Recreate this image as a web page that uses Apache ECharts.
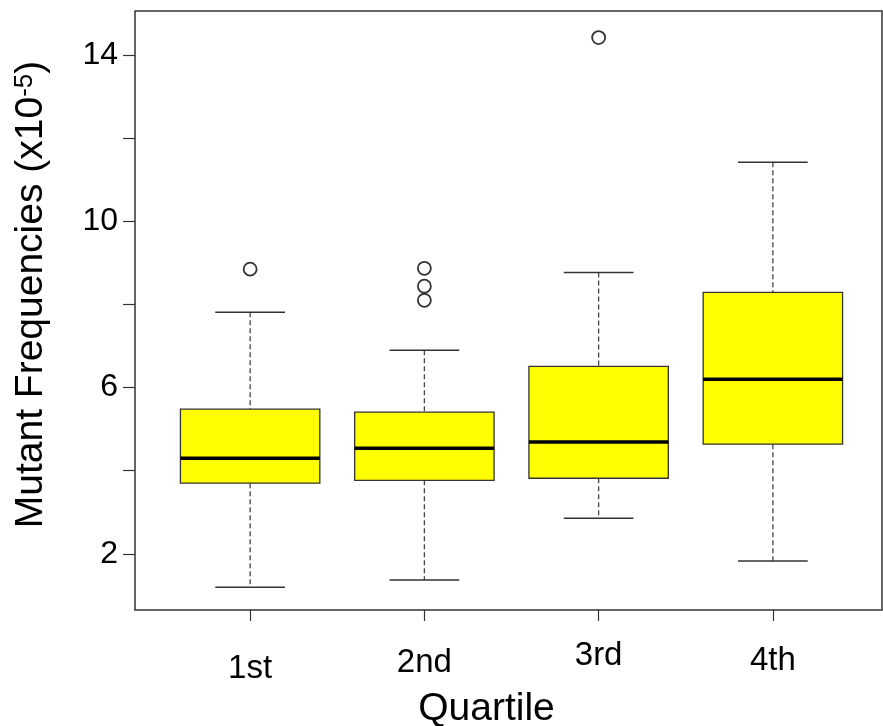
<!DOCTYPE html>
<html>
<head>
<meta charset="utf-8">
<script src="https://cdn.jsdelivr.net/npm/echarts@6/dist/echarts.min.js"></script>
<style>html,body{margin:0;padding:0;background:#fff;}#c{width:883px;height:726px;}</style>
</head>
<body>
<div id="c"></div>
<script>
const categories = ['1st', '2nd', '3rd', '4th'];
const lowerWhisker = [1.20, 1.37, 2.86, 1.83];
const q1 = [3.70, 3.77, 3.82, 4.64];
const median = [4.30, 4.54, 4.69, 6.20];
const q3 = [5.48, 5.41, 6.51, 8.29];
const upperWhisker = [7.81, 6.90, 8.77, 11.42];
const outliers = [[0, 8.85], [1, 8.87], [1, 8.44], [1, 8.10], [2, 14.42]];
const yTickValues = [2, 4, 6, 8, 10, 12, 14];
const yLabelValues = [2, 6, 10, 14];

const boxData = categories.map((c, i) => [i, lowerWhisker[i], q1[i], median[i], q3[i], upperWhisker[i]]);

const FONT = '"Liberation Sans", Arial, Helvetica, sans-serif';
const chart = echarts.init(document.getElementById('c'), null, {renderer: 'canvas'});

const labelPad = [13, 7, 0, 5];
const TICKFS = 33;

chart.setOption({
  animation: false,
  backgroundColor: '#fff',
  grid: [
    {left: 135, top: 11, right: 1, bottom: 116, show: true, borderColor: '#333', borderWidth: 1.5, backgroundColor: 'transparent', outerBoundsMode: 'none', containLabel: false},
    {left: 163, top: 11, right: 23, bottom: 116, outerBoundsMode: 'none', containLabel: false}
  ],
  xAxis: [
    {gridIndex: 0, type: 'value', show: false},
    {
      gridIndex: 1, type: 'category', data: categories, boundaryGap: true,
      axisLine: {show: false},
      axisTick: {show: true, alignWithLabel: true, length: 11, lineStyle: {color: '#333', width: 1.2}},
      axisLabel: {
        margin: 29, color: '#000', fontFamily: FONT, fontSize: TICKFS,
        formatter: (v, i) => '{a' + i + '|' + v + '}',
        rich: {
          a0: {fontSize: TICKFS, fontFamily: FONT, color: '#000', padding: [labelPad[0], 0, 0, 0]},
          a1: {fontSize: TICKFS, fontFamily: FONT, color: '#000', padding: [labelPad[1], 0, 0, 0]},
          a2: {fontSize: TICKFS, fontFamily: FONT, color: '#000', padding: [labelPad[2], 0, 0, 0]},
          a3: {fontSize: TICKFS, fontFamily: FONT, color: '#000', padding: [labelPad[3], 0, 0, 0]}
        }
      },
      splitLine: {show: false},
      name: 'Quartile', nameLocation: 'middle', nameGap: 77,
      nameTextStyle: {fontSize: 39, fontFamily: FONT, color: '#000', padding: [0, 50, 0, 0]}
    }
  ],
  yAxis: [
    {gridIndex: 0, type: 'value', show: false},
    {
      gridIndex: 1, type: 'value', min: 0.65, max: 15.06, offset: 28,
      axisLine: {show: false},
      axisTick: {show: true, length: 12, customValues: yTickValues, lineStyle: {color: '#333', width: 1.2}},
      axisLabel: {show: true, customValues: yLabelValues, margin: 17, color: '#000', fontFamily: FONT, fontSize: 32},
      splitLine: {show: false},
      name: 'Mutant Frequencies (x10{sup|-5})', nameLocation: 'middle', nameGap: 84,
      nameTextStyle: {
        fontSize: 39, fontFamily: FONT, color: '#000', padding: [0, 0, 0, 32],
        rich: {sup: {fontSize: 26, fontFamily: FONT, color: '#000', verticalAlign: 'top', padding: [0, 0, 12, 0]}}
      }
    }
  ],
  series: [
    {
      type: 'custom', xAxisIndex: 1, yAxisIndex: 1,
      data: boxData,
      encode: {x: 0, y: [1, 2, 3, 4, 5]},
      renderItem: function (params, api) {
        const idx = api.value(0);
        const lo = api.coord([idx, api.value(1)]);
        const b1 = api.coord([idx, api.value(2)]);
        const md = api.coord([idx, api.value(3)]);
        const b3 = api.coord([idx, api.value(4)]);
        const hi = api.coord([idx, api.value(5)]);
        const band = api.size([1, 0])[0];
        const bw = band * 0.8;
        const cw = bw / 2;
        const x = lo[0];
        const dash = {stroke: '#444', lineWidth: 1.3, lineDash: [5, 3]};
        const solid = {stroke: '#333', lineWidth: 1.5};
        return {
          type: 'group',
          children: [
            {type: 'line', shape: {x1: x, y1: hi[1], x2: x, y2: b3[1]}, style: dash},
            {type: 'line', shape: {x1: x, y1: b1[1], x2: x, y2: lo[1]}, style: dash},
            {type: 'line', shape: {x1: x - cw / 2, y1: hi[1], x2: x + cw / 2, y2: hi[1]}, style: solid},
            {type: 'line', shape: {x1: x - cw / 2, y1: lo[1], x2: x + cw / 2, y2: lo[1]}, style: solid},
            {type: 'rect', shape: {x: x - bw / 2, y: b3[1], width: bw, height: b1[1] - b3[1]}, style: {fill: '#ffff00', stroke: '#333', lineWidth: 1.3}},
            {type: 'line', shape: {x1: x - bw / 2, y1: md[1], x2: x + bw / 2, y2: md[1]}, style: {stroke: '#000', lineWidth: 3.5}}
          ]
        };
      }
    },
    {
      type: 'scatter', xAxisIndex: 1, yAxisIndex: 1,
      data: outliers,
      symbol: 'circle', symbolSize: 13,
      itemStyle: {color: '#fff', borderColor: '#000', borderWidth: 1.8}
    }
  ]
});
</script>
</body>
</html>
